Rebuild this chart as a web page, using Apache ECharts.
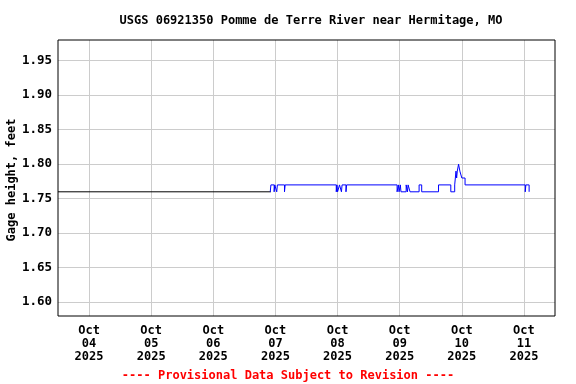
<!DOCTYPE html>
<html><head><meta charset="utf-8">
<script src="https://cdn.jsdelivr.net/npm/echarts@6/dist/echarts.min.js"></script>
<style>html,body{margin:0;padding:0;background:#fff}#c{width:576px;height:384px}</style>
</head><body><div id="c"></div>
<script>
const titleText = 'USGS 06921350 Pomme de Terre River near Hermitage, MO';
const yAxisName = 'Gage height, feet';
const footerText = '---- Provisional Data Subject to Revision ----';
const xMin = '2025-10-03 12:00';
const xMax = '2025-10-11 12:00';
const yMin = 1.58;
const yMax = 1.98;

// Estimated (black) segment
const blackTimes = ['2025-10-03 12:00', '2025-10-06 22:15'];
const blackValues = [1.76, 1.76];

// Blue segment: value holds from each time until the next
const blueTimes = [
  '2025-10-06 22:00', '2025-10-06 22:15', '2025-10-06 23:30', '2025-10-06 23:45',
  '2025-10-07 00:30', '2025-10-07 00:45', '2025-10-07 03:30', '2025-10-07 03:45',
  '2025-10-07 23:30', '2025-10-07 23:45', '2025-10-08 00:00', '2025-10-08 00:45',
  '2025-10-08 01:30', '2025-10-08 01:45', '2025-10-08 03:15', '2025-10-08 03:30',
  '2025-10-08 23:00', '2025-10-08 23:30', '2025-10-08 23:45', '2025-10-09 00:15',
  '2025-10-09 00:30', '2025-10-09 02:30', '2025-10-09 03:00', '2025-10-09 03:15',
  '2025-10-09 04:00', '2025-10-09 07:30', '2025-10-09 08:30', '2025-10-09 15:00',
  '2025-10-09 19:45', '2025-10-09 21:15', '2025-10-09 21:30', '2025-10-09 21:45',
  '2025-10-09 22:00', '2025-10-09 22:15', '2025-10-09 22:45', '2025-10-09 23:15',
  '2025-10-10 00:00', '2025-10-10 01:15', '2025-10-11 00:30', '2025-10-11 00:45',
  '2025-10-11 02:00', '2025-10-11 02:15'
];
const blueValues = [
  1.76, 1.77, 1.76, 1.77,
  1.76, 1.77, 1.76, 1.77,
  1.76, 1.77, 1.76, 1.77,
  1.76, 1.77, 1.76, 1.77,
  1.76, 1.77, 1.76, 1.77,
  1.76, 1.77, 1.76, 1.77,
  1.76, 1.77, 1.76, 1.77,
  1.76, 1.77, 1.78, 1.79,
  1.78, 1.79, 1.80, 1.79,
  1.78, 1.77, 1.76, 1.77,
  1.76, 1.76
];

function toMs(s) {
  const [d, t] = s.split(' ');
  const [Y, M, D] = d.split('-').map(Number);
  const [h, m] = t.split(':').map(Number);
  return Date.UTC(Y, M - 1, D, h, m);
}
const MON = ['Jan','Feb','Mar','Apr','May','Jun','Jul','Aug','Sep','Oct','Nov','Dec'];
const FONT = 'DejaVu Sans Mono';
const DAY = 86400000;

const chart = echarts.init(document.getElementById('c'));
chart.setOption({
  useUTC: true,
  animation: false,
  backgroundColor: '#fff',
  title: {
    text: titleText, left: 306, top: 10, textAlign: 'center',
    textStyle: { fontFamily: FONT, fontSize: 12, fontWeight: 'bold', color: '#000' }
  },
  graphic: [{
    type: 'text', left: 'center', top: 370,
    style: { text: footerText, fontFamily: FONT, fontSize: 12, fontWeight: 'bold', fill: '#ff0000' }
  }, {
    type: 'text', x: 12, y: 180, rotation: Math.PI / 2,
    style: { text: yAxisName, fontFamily: FONT, fontSize: 12, fontWeight: 'bold', fill: '#000', align: 'center', verticalAlign: 'middle' }
  }],
  grid: { left: 58, right: 21, top: 40, bottom: 68, show: true, borderColor: '#000', borderWidth: 1, containLabel: false, outerBoundsMode: 'none', z: 5 },
  xAxis: {
    type: 'time', min: toMs(xMin), max: toMs(xMax),
    minInterval: DAY, maxInterval: DAY,
    axisLine: { show: false }, axisTick: { show: false },
    splitLine: { show: true, showMinLine: false, showMaxLine: false, lineStyle: { color: '#cccccc', width: 1 } },
    axisLabel: {
      showMinLabel: false, showMaxLabel: false, margin: 8,
      fontFamily: FONT, fontSize: 12, fontWeight: 'bold', color: '#000', lineHeight: 13,
      formatter: function (v) {
        const d = new Date(v);
        if (d.getUTCHours() !== 0 || d.getUTCMinutes() !== 0) return '';
        return MON[d.getUTCMonth()] + '\n' + String(d.getUTCDate()).padStart(2, '0') + '\n' + d.getUTCFullYear();
      }
    }
  },
  yAxis: {
    type: 'value', min: yMin, max: yMax, splitNumber: 8,
    axisLine: { show: false }, axisTick: { show: false },
    splitLine: { show: true, showMinLine: false, showMaxLine: false, lineStyle: { color: '#cccccc', width: 1 } },
    axisLabel: {
      showMinLabel: false, showMaxLabel: false, margin: 6,
      fontFamily: FONT, fontSize: 12.5, fontWeight: 'bold', color: '#000',
      formatter: function (v) {
        const k = Math.round(v * 100);
        if (k % 5 !== 0 || Math.abs(v * 100 - k) > 1e-6) return '';
        return v.toFixed(2);
      }
    }
  },
  series: [
    {
      type: 'line', symbol: 'none', silent: true,
      lineStyle: { color: '#000', width: 1 },
      data: blackTimes.map((t, i) => [toMs(t), blackValues[i]])
    },
    {
      type: 'line', symbol: 'none', silent: true, step: 'end',
      lineStyle: { color: '#0000ff', width: 1 },
      data: blueTimes.map((t, i) => [toMs(t), blueValues[i]])
    }
  ]
});
</script>
</body></html>
